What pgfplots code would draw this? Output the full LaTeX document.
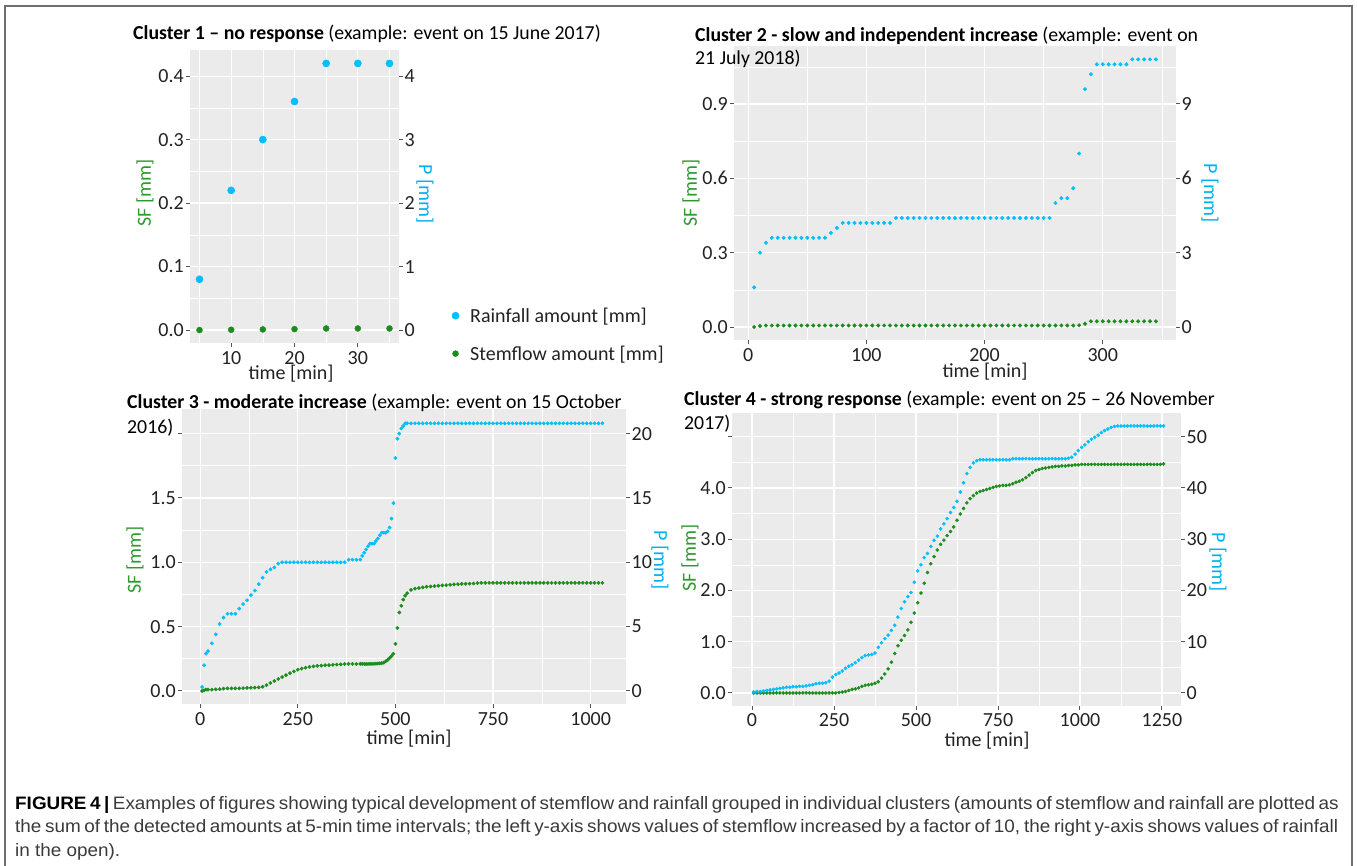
\documentclass[border=0pt]{standalone}
\usepackage{pgfplots}
\pgfplotsset{compat=1.18}
\usepackage{pgfplotstable}
\usepackage{fontspec}
\setmainfont{Carlito}
\newfontfamily\capfont[FakeStretch=1.05]{Liberation Sans}

\definecolor{ggbg}{HTML}{EBEBEB}
\definecolor{ggtick}{HTML}{555555}
\definecolor{ggtxt}{HTML}{222222}
\definecolor{rain}{HTML}{00BFFF}
\definecolor{stem}{HTML}{1C8C1C}
\definecolor{sflab}{HTML}{2E9A2E}
\definecolor{plab}{HTML}{00B0F0}
\definecolor{capc}{HTML}{3A3A3A}
\definecolor{frcol}{HTML}{6E6E6E}

\newcommand\ggfont{\fontsize{20}{24}\selectfont}
\newcommand\ttlfont{\fontsize{19.8}{24}\selectfont}
\newcommand\cfont{\capfont\fontsize{18}{21}\selectfont}

\pgfplotsset{
  gg/.style={
    scale only axis,
    axis background/.style={fill=ggbg},
    axis line style={draw=none},
    xmajorgrids, ymajorgrids, xminorgrids, yminorgrids,
    major grid style={draw=white, line width=1.2pt},
    minor grid style={draw=white, line width=0.6pt},
    tick align=outside,
    major tick length=4pt,
    minor tick length=0pt,
    tick style={draw=ggtick, line width=1pt},
    xtick pos=bottom, ytick pos=left,
    ticklabel style={font=\ggfont, text=ggtxt},
    yticklabel style={inner sep=2pt},
    xticklabel style={inner sep=2pt, yshift=-1.5pt},
  },
  ggsec/.style={
    scale only axis,
    hide x axis,
    axis line style={draw=none},
    tick align=outside,
    major tick length=4pt,
    tick style={draw=ggtick, line width=1pt},
    ytick pos=right, yticklabel pos=right,
    ticklabel style={font=\ggfont, text=ggtxt},
    yticklabel style={inner sep=1.5pt},
  },
}

% cluster 1: t [min], SF [mm], P [mm]
\pgfplotstableread{
t sf p
5 0.0000 0.8
10 0.0005 2.2
15 0.0010 3.0
20 0.0015 3.6
25 0.0025 4.2
30 0.0025 4.2
35 0.0025 4.2
}\dataA

% cluster 2
\pgfplotstableread{
t sf p
5 0.000 1.6
10 0.004 3.0
15 0.006 3.4
20 0.006 3.6
25 0.006 3.6
30 0.006 3.6
35 0.006 3.6
40 0.006 3.6
45 0.006 3.6
50 0.006 3.6
55 0.006 3.6
60 0.006 3.6
65 0.006 3.6
70 0.006 3.8
75 0.006 4.0
80 0.006 4.2
85 0.006 4.2
90 0.006 4.2
95 0.006 4.2
100 0.006 4.2
105 0.006 4.2
110 0.006 4.2
115 0.006 4.2
120 0.006 4.2
125 0.006 4.4
130 0.006 4.4
135 0.006 4.4
140 0.006 4.4
145 0.006 4.4
150 0.006 4.4
155 0.006 4.4
160 0.006 4.4
165 0.006 4.4
170 0.006 4.4
175 0.006 4.4
180 0.006 4.4
185 0.006 4.4
190 0.006 4.4
195 0.006 4.4
200 0.006 4.4
205 0.006 4.4
210 0.006 4.4
215 0.006 4.4
220 0.006 4.4
225 0.006 4.4
230 0.006 4.4
235 0.006 4.4
240 0.006 4.4
245 0.006 4.4
250 0.006 4.4
255 0.006 4.4
260 0.006 5.0
265 0.006 5.2
270 0.006 5.2
275 0.006 5.6
280 0.007 7.0
285 0.013 9.6
290 0.023 10.2
295 0.023 10.6
300 0.023 10.6
305 0.023 10.6
310 0.023 10.6
315 0.023 10.6
320 0.023 10.6
325 0.023 10.8
330 0.023 10.8
335 0.023 10.8
340 0.023 10.8
345 0.023 10.8
}\dataB

% cluster 3
\pgfplotstableread{
t sf p
5 0.000 0.3
10 0.005 2.0
15 0.010 2.9
20 0.010 3.1
30 0.010 3.7
40 0.012 4.4
50 0.014 5.2
60 0.018 5.7
70 0.020 6.0
80 0.020 6.0
90 0.020 6.0
100 0.020 6.4
110 0.022 6.75
120 0.024 7.05
130 0.025 7.45
140 0.026 7.8
150 0.028 8.3
160 0.033 8.8
170 0.045 9.25
180 0.062 9.45
190 0.078 9.6
200 0.093 9.9
210 0.108 10.0
220 0.123 10.0
230 0.138 10.0
240 0.152 10.0
250 0.165 10.0
260 0.174 10.0
270 0.181 10.0
280 0.187 10.0
290 0.191 10.0
300 0.195 10.0
310 0.197 10.0
320 0.200 10.0
330 0.201 10.0
340 0.203 10.0
350 0.205 10.0
360 0.207 10.0
370 0.209 10.0
380 0.210 10.2
390 0.210 10.2
400 0.210 10.2
410 0.210 10.2
415 0.210 10.5
420 0.210 10.75
425 0.210 11.0
430 0.210 11.25
435 0.211 11.45
440 0.211 11.45
445 0.211 11.45
450 0.212 11.65
455 0.213 11.85
460 0.214 12.1
465 0.216 12.3
470 0.220 12.3
475 0.230 12.3
480 0.240 12.4
485 0.255 12.7
490 0.270 13.4
495 0.289 14.6
500 0.366 18.1
505 0.490 19.6
510 0.610 20.0
515 0.662 20.4
520 0.710 20.6
525 0.740 20.8
530 0.760 20.8
540 0.785 20.8
550 0.795 20.8
560 0.800 20.8
570 0.805 20.8
580 0.810 20.8
590 0.812 20.8
600 0.815 20.8
610 0.818 20.8
620 0.820 20.8
630 0.822 20.8
640 0.825 20.8
650 0.828 20.8
660 0.830 20.8
670 0.832 20.8
680 0.833 20.8
690 0.834 20.8
700 0.835 20.8
710 0.838 20.8
720 0.840 20.8
730 0.840 20.8
740 0.840 20.8
750 0.840 20.8
760 0.840 20.8
770 0.840 20.8
780 0.840 20.8
790 0.840 20.8
800 0.840 20.8
810 0.840 20.8
820 0.840 20.8
830 0.840 20.8
840 0.840 20.8
850 0.840 20.8
860 0.840 20.8
870 0.840 20.8
880 0.840 20.8
890 0.840 20.8
900 0.840 20.8
910 0.840 20.8
920 0.840 20.8
930 0.840 20.8
940 0.840 20.8
950 0.840 20.8
960 0.840 20.8
970 0.840 20.8
980 0.840 20.8
990 0.840 20.8
1000 0.840 20.8
1010 0.840 20.8
1020 0.840 20.8
1030 0.840 20.8
}\dataC

% cluster 4
\pgfplotstableread{
t sf p
5 0 0.2
15 0 0.3
25 0 0.3
35 0 0.4
45 0 0.5
55 0 0.6
65 0 0.7
75 0 0.8
85 0 0.9
95 0 1.0
105 0 1.1
115 0 1.1
125 0 1.2
135 0 1.2
145 0 1.3
155 0 1.3
165 0 1.4
175 0 1.5
185 0 1.6
195 0 1.8
205 0 1.9
215 0 1.9
225 0 2.0
235 0 2.3
245 0 3.1
255 0 3.6
265 0.01 3.9
275 0.02 4.3
285 0.03 4.8
295 0.05 5.2
305 0.07 5.5
315 0.08 5.9
325 0.10 6.4
335 0.13 6.9
345 0.15 7.3
355 0.16 7.4
365 0.17 7.5
375 0.19 7.8
385 0.22 8.9
395 0.29 9.8
405 0.37 10.6
415 0.47 11.3
425 0.60 12.2
435 0.77 13.2
445 0.92 14.8
455 1.03 16.5
465 1.12 17.8
475 1.23 18.8
485 1.38 19.6
495 1.56 21.6
505 1.76 23.8
515 1.95 25.0
525 2.14 26.4
535 2.35 27.2
545 2.52 28.6
555 2.66 29.8
565 2.79 30.6
575 2.90 32.0
585 2.98 33.0
595 3.07 34.0
605 3.15 35.2
615 3.24 36.2
625 3.37 37.4
635 3.49 39.2
645 3.60 41.0
655 3.71 42.8
665 3.79 44.0
675 3.85 44.9
685 3.90 45.3
695 3.93 45.5
705 3.95 45.5
715 3.97 45.5
725 3.99 45.5
735 4.01 45.5
745 4.03 45.5
755 4.04 45.5
765 4.05 45.5
775 4.05 45.5
785 4.06 45.5
795 4.08 45.7
805 4.11 45.7
815 4.13 45.7
825 4.16 45.7
835 4.20 45.7
845 4.25 45.7
855 4.30 45.7
865 4.34 45.7
875 4.36 45.7
885 4.38 45.7
895 4.39 45.7
905 4.40 45.7
915 4.41 45.7
925 4.42 45.7
935 4.42 45.7
945 4.43 45.7
955 4.43 45.7
965 4.44 45.8
975 4.44 46.0
985 4.45 46.6
995 4.45 47.3
1005 4.46 47.9
1015 4.46 48.4
1025 4.46 49.0
1035 4.46 49.5
1045 4.46 49.9
1055 4.46 50.3
1065 4.46 50.8
1075 4.46 51.2
1085 4.46 51.5
1095 4.46 51.8
1105 4.46 52.0
1115 4.46 52.1
1125 4.46 52.1
1135 4.46 52.1
1145 4.46 52.1
1155 4.46 52.1
1165 4.46 52.1
1175 4.46 52.1
1185 4.46 52.1
1195 4.46 52.1
1205 4.46 52.1
1215 4.46 52.1
1225 4.46 52.1
1235 4.46 52.1
1245 4.46 52.1
1255 4.47 52.1
}\dataD

\begin{document}
\begin{tikzpicture}[x=1pt,y=1pt]

% outer frame
\draw[draw=frcol, line width=1.3pt] (5pt,-2pt) -- (5pt,860pt) -- (1352pt,860pt) -- (1352pt,-2pt);

% ---------------- Cluster 1 ----------------
\begin{axis}[gg, at={(190pt,522.6pt)}, anchor=south west, width=209pt, height=293.3pt,
  xmin=3.5, xmax=36.5, ymin=-0.021, ymax=0.441,
  xtick={10,20,30}, xticklabels={10,20,30}, minor xtick={5,15,25,35},
  ytick={0,0.1,0.2,0.3,0.4}, yticklabels={0.0,0.1,0.2,0.3,0.4},
  minor ytick={0.05,0.15,0.25,0.35}]
\addplot[only marks, mark=*, mark size=3pt, color=stem] table[x=t,y=sf]{\dataA};
\end{axis}
\begin{axis}[ggsec, at={(190pt,522.6pt)}, anchor=south west, width=209pt, height=293.3pt,
  xmin=3.5, xmax=36.5, ymin=-0.21, ymax=4.41,
  ytick={0,1,2,3,4}, yticklabels={0,1,2,3,4},
  legend style={at={(axis description cs:1.238,0.136)}, anchor=north west,
    draw=none, fill=none, font=\ggfont, row sep=18pt,
    nodes={text=ggtxt},
    /tikz/every odd column/.append style={column sep=9pt}},
  legend cell align=left]
\addplot[only marks, mark=*, mark size=3.6pt, color=rain] table[x=t,y=p]{\dataA};
\addlegendentry{Rainfall amount [mm]}
\addlegendimage{only marks, mark=*, mark size=3pt, color=stem}
\addlegendentry{Stemflow amount [mm]}
\end{axis}

% ---------------- Cluster 2 ----------------
\begin{axis}[gg, at={(734pt,525.6pt)}, anchor=south west, width=442pt, height=294.4pt,
  xmin=-12, xmax=362, ymin=-0.054, ymax=1.134,
  xtick={0,100,200,300}, xticklabels={0,100,200,300}, minor xtick={50,150,250,350},
  ytick={0,0.3,0.6,0.9}, yticklabels={0.0,0.3,0.6,0.9},
  minor ytick={0.15,0.45,0.75,1.05}]
\addplot[only marks, mark=*, mark size=1.8pt, color=stem] table[x=t,y=sf]{\dataB};
\end{axis}
\begin{axis}[ggsec, at={(734pt,525.6pt)}, anchor=south west, width=442pt, height=294.4pt,
  xmin=-12, xmax=362, ymin=-0.54, ymax=11.34,
  ytick={0,3,6,9}, yticklabels={0,3,6,9}]
\addplot[only marks, mark=*, mark size=1.8pt, color=rain] table[x=t,y=p]{\dataB};
\end{axis}

% ---------------- Cluster 3 ----------------
\begin{axis}[gg, at={(182pt,161.6pt)}, anchor=south west, width=444pt, height=295.8pt,
  xmin=-46.5, xmax=1090.5, ymin=-0.1045, ymax=2.1945,
  xtick={0,250,500,750,1000}, xticklabels={0,250,500,750,1000},
  minor xtick={125,375,625,875},
  ytick={0,0.5,1,1.5,2}, yticklabels={0.0,0.5,1.0,1.5,{}},
  minor ytick={0.25,0.75,1.25,1.75}]
\addplot[only marks, mark=*, mark size=1.7pt, color=stem] table[x=t,y=sf]{\dataC};
\end{axis}
\begin{axis}[ggsec, at={(182pt,161.6pt)}, anchor=south west, width=444pt, height=295.8pt,
  xmin=-46.5, xmax=1090.5, ymin=-1.045, ymax=21.945,
  ytick={0,5,10,15,20}, yticklabels={0,5,10,15,20}]
\addplot[only marks, mark=*, mark size=1.7pt, color=rain] table[x=t,y=p]{\dataC};
\end{axis}

% ---------------- Cluster 4 ----------------
\begin{axis}[gg, at={(732pt,159.7pt)}, anchor=south west, width=449pt, height=293.7pt,
  xmin=-61, xmax=1308, ymin=-0.26, ymax=5.47,
  xtick={0,250,500,750,1000,1250}, xticklabels={0,250,500,750,1000,1250},
  minor xtick={125,375,625,875,1125},
  ytick={0,1,2,3,4,5}, yticklabels={0.0,1.0,2.0,3.0,4.0,{}},
  minor ytick={0.5,1.5,2.5,3.5,4.5}]
\addplot[only marks, mark=*, mark size=1.6pt, color=stem] table[x=t,y=sf]{\dataD};
\end{axis}
\begin{axis}[ggsec, at={(732pt,159.7pt)}, anchor=south west, width=449pt, height=293.7pt,
  xmin=-61, xmax=1308, ymin=-2.6, ymax=54.7,
  ytick={0,10,20,30,40,50}, yticklabels={0,10,20,30,40,50}]
\addplot[only marks, mark=*, mark size=1.6pt, color=rain] table[x=t,y=p]{\dataD};
\end{axis}

% ---------------- titles ----------------
\node[anchor=base west, inner sep=0] at (133pt,826pt) {\ttlfont\textbf{Cluster 1 -- no response} (example: event on 15 June 2017)};
\node[anchor=base west, inner sep=0] at (695pt,824pt) {\ttlfont\textbf{Cluster 2 - slow and independent increase} (example: event on};
\node[anchor=base west, inner sep=0] at (695pt,801pt) {\ttlfont 21 July 2018)};
\node[anchor=base west, inner sep=0] at (127pt,457pt) {\ttlfont\textbf{Cluster 3 - moderate increase} (example: event on 15 October};
\node[anchor=base west, inner sep=0] at (127pt,432pt) {\ttlfont 2016)};
\node[anchor=base west, inner sep=0] at (684pt,460pt) {\ttlfont\textbf{Cluster 4 - strong response} (example: event on 25 -- 26 November};
\node[anchor=base west, inner sep=0] at (684pt,436pt) {\ttlfont 2017)};

% ---------------- axis labels ----------------
\begin{scope}[every node/.style={font=\ggfont, inner sep=0}]
\node[rotate=90, text=sflab] at (145pt,673pt) {SF [mm]};
\node[rotate=-90, text=plab] at (425pt,672pt) {P [mm]};
\node[text=ggtxt] at (291pt,492pt) {time [min]};
\node[rotate=90, text=sflab] at (691pt,673pt) {SF [mm]};
\node[rotate=-90, text=plab] at (1210pt,673pt) {P [mm]};
\node[text=ggtxt] at (985pt,494pt) {time [min]};
\node[rotate=90, text=sflab] at (135pt,306pt) {SF [mm]};
\node[rotate=-90, text=plab] at (660pt,306pt) {P [mm]};
\node[text=ggtxt] at (409pt,127pt) {time [min]};
\node[rotate=90, text=sflab] at (690pt,308pt) {SF [mm]};
\node[rotate=-90, text=plab] at (1218pt,304pt) {P [mm]};
\node[text=ggtxt] at (987pt,125pt) {time [min]};
\end{scope}

% ---------------- caption ----------------
\node[anchor=west, inner sep=0, text=capc] at (15pt,61pt) {\cfont\makebox[1323pt][s]{{\color{black}\textbf{FIGURE 4 |}} Examples of figures showing typical development of stemflow and rainfall grouped in individual clusters (amounts of stemflow and rainfall are plotted as}};
\node[anchor=west, inner sep=0, text=capc] at (15pt,38pt) {\cfont\makebox[1323pt][s]{the sum of the detected amounts at 5-min time intervals; the left y-axis shows values of stemflow increased by a factor of 10, the right y-axis shows values of rainfall}};
\node[anchor=west, inner sep=0, text=capc] at (15pt,14pt) {\cfont in the open).};

\pgfresetboundingbox
\path[use as bounding box] (0pt,0pt) rectangle (1357pt,866pt);
\end{tikzpicture}
\end{document}
